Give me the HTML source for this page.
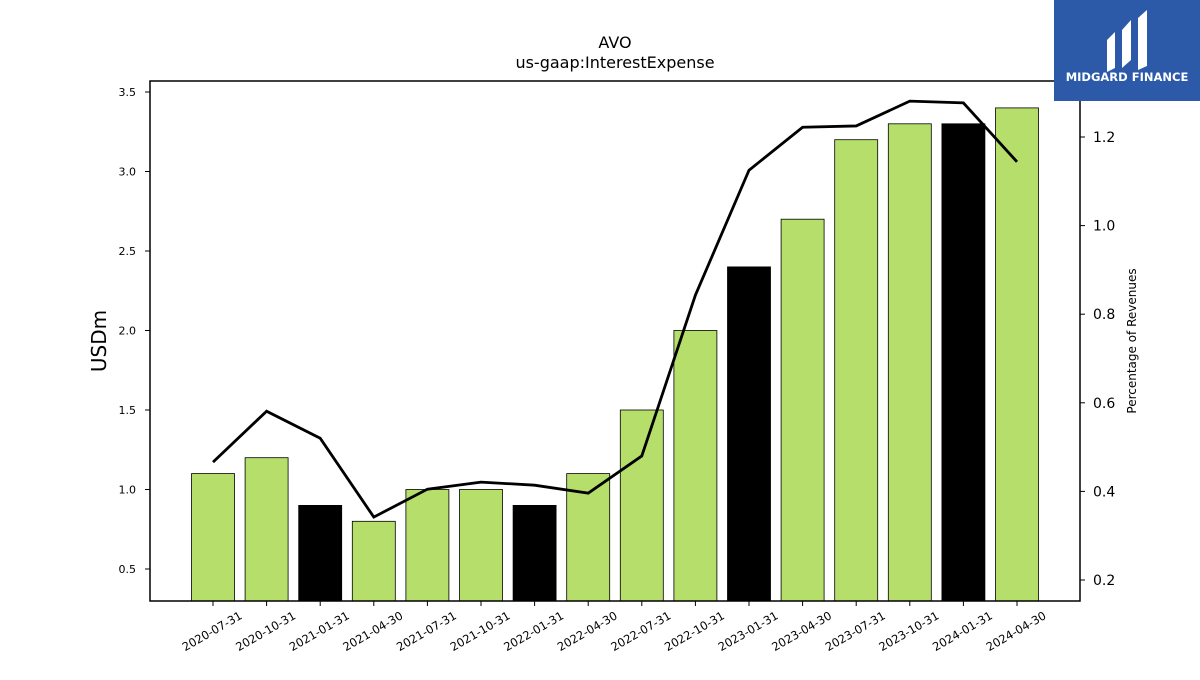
<!DOCTYPE html>
<html><head><meta charset="utf-8"><style>
body{margin:0;background:#fff;font-family:"Liberation Sans","DejaVu Sans",sans-serif}
svg text{font-family:"DejaVu Sans","Liberation Sans",sans-serif}
</style></head><body>
<svg id="chart" width="1200" height="675" xmlns="http://www.w3.org/2000/svg">
<rect width="1200" height="675" fill="#fff"/>
<text x="615" y="48" text-anchor="middle" font-size="16">AVO</text>
<text x="615" y="68" text-anchor="middle" font-size="16">us-gaap:InterestExpense</text>
<g id="bars"></g><g id="xt"></g><g id="yl"></g><g id="yr"></g>
<path id="line" fill="none" stroke="#000" stroke-width="2.8"/>
<rect x="150" y="81" width="930" height="520" fill="none" stroke="#000" stroke-width="1.5"/>
<text transform="translate(106,341) rotate(-90)" text-anchor="middle" font-size="20">USDm</text>
<text transform="translate(1136,341) rotate(-90)" text-anchor="middle" font-size="12">Percentage of Revenues</text>
<g>
<rect x="1054" y="0" width="146" height="101" fill="#2c5aa8"/>
<path d="M1107 40 L1115 32 L1115 68 L1107 72 Z M1122 30 L1131 20 L1131 60 L1122 68 Z M1138 18 L1147 10 L1147 66 L1138 70 Z" fill="#fff"/>
<text x="1127" y="81" text-anchor="middle" font-size="11.5" font-weight="bold" fill="#fff">MIDGARD FINANCE</text>
</g>
</svg>
<script>
const categories=["2020-07-31","2020-10-31","2021-01-31","2021-04-30","2021-07-31","2021-10-31","2022-01-31","2022-04-30","2022-07-31","2022-10-31","2023-01-31","2023-04-30","2023-07-31","2023-10-31","2024-01-31","2024-04-30"];
const expense=[1.1,1.2,0.9,0.8,1.0,1.0,0.9,1.1,1.5,2.0,2.4,2.7,3.2,3.3,3.3,3.4];
const pctRevenue=[0.466,0.581,0.52,0.342,0.405,0.421,0.414,0.396,0.48,0.843,1.125,1.222,1.225,1.281,1.277,1.144];
const highlighted=[false,false,true,false,false,false,true,false,false,false,true,false,false,false,true,false];
const leftTicks=[0.5,1.0,1.5,2.0,2.5,3.0,3.5];
const rightTicks=[0.2,0.4,0.6,0.8,1.0,1.2];
const NS="http://www.w3.org/2000/svg";
const x=i=>213+i*53.6;
const yL=v=>569-(v-0.5)*159;
const yR=v=>580-(v-0.2)*443;
function mk(t,a,p){const e=document.createElementNS(NS,t);for(const k in a)e.setAttribute(k,a[k]);p.appendChild(e);return e;}
const bars=document.getElementById('bars'),xt=document.getElementById('xt'),yl=document.getElementById('yl'),yr=document.getElementById('yr');
expense.forEach((v,i)=>{
 const r=mk('rect',{x:x(i)-21.5,y:yL(v),width:43,height:601-yL(v),fill:highlighted[i]?'#000':'#b5de6b',stroke:'#000','stroke-width':0.8},bars);
 
 
 mk('line',{x1:x(i),x2:x(i),y1:601,y2:606,stroke:'#000'},xt);
 const t=mk('text',{x:x(i)+30,y:618,'text-anchor':'end','font-size':11.5,transform:`rotate(-30 ${x(i)+30} 618)`},xt);
 t.textContent=categories[i];
 
 
});
leftTicks.forEach(v=>{
 mk('line',{x1:145,x2:150,y1:yL(v),y2:yL(v),stroke:'#000'},yl);
 const t=mk('text',{x:136,y:yL(v)+4,'text-anchor':'end','font-size':11},yl);t.textContent=v.toFixed(1);
 
 
});
rightTicks.forEach(v=>{
 mk('line',{x1:1080,x2:1085,y1:yR(v),y2:yR(v),stroke:'#000'},yr);
 const t=mk('text',{x:1093,y:yR(v)+5,'font-size':14},yr);t.textContent=v.toFixed(1);
 
 
});
document.getElementById('line').setAttribute('d',pctRevenue.map((v,i)=>(i?'L':'M')+x(i)+' '+yR(v)).join(' '));
</script>
</body></html>
